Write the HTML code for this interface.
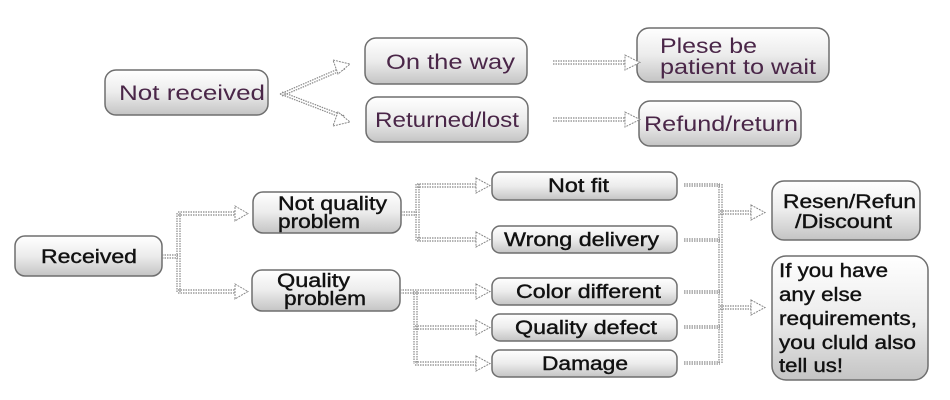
<!DOCTYPE html>
<html><head><meta charset="utf-8"><style>
html,body{margin:0;padding:0;background:#fff;width:950px;height:400px;overflow:hidden}
svg{display:block}
text{font-family:"Liberation Sans",Arial,sans-serif}
</style></head><body>
<svg width="950" height="400" viewBox="0 0 950 400" xmlns="http://www.w3.org/2000/svg">
<defs>
<linearGradient id="g" x1="0" y1="0" x2="0" y2="1">
<stop offset="0" stop-color="#ffffff"/><stop offset="0.5" stop-color="#ececec"/><stop offset="1" stop-color="#c4c4c4"/>
</linearGradient>
</defs>
<g fill="url(#g)" stroke="#6e6e6e" stroke-width="1.5">
<rect x="105" y="70" width="163" height="45" rx="11"/>
<rect x="365" y="38" width="162" height="46" rx="11"/>
<rect x="366" y="97" width="162" height="45" rx="11"/>
<rect x="637" y="28" width="192" height="54" rx="12"/>
<rect x="639" y="101" width="162" height="45" rx="11"/>
<rect x="15" y="236" width="147" height="40" rx="10"/>
<rect x="253" y="192" width="148" height="41" rx="10"/>
<rect x="252" y="270" width="148" height="41" rx="10"/>
<rect x="492" y="172" width="185" height="28" rx="8"/>
<rect x="492" y="226" width="185" height="27" rx="8"/>
<rect x="492" y="278" width="185" height="27" rx="8"/>
<rect x="492" y="314" width="185" height="27" rx="8"/>
<rect x="492" y="350" width="185" height="27" rx="8"/>
<rect x="772" y="181" width="148" height="59" rx="12"/>
<rect x="772" y="256" width="156" height="124" rx="14"/>
</g>
<g fill="#4a2648" font-size="21">
<text x="119" y="100" textLength="146" lengthAdjust="spacingAndGlyphs">Not received</text>
<text x="386" y="69" textLength="129" lengthAdjust="spacingAndGlyphs">On the way</text>
<text x="375" y="127" textLength="144" lengthAdjust="spacingAndGlyphs">Returned/lost</text>
<text x="660" y="53" textLength="97" lengthAdjust="spacingAndGlyphs">Plese be</text>
<text x="660" y="74" textLength="156" lengthAdjust="spacingAndGlyphs">patient to wait</text>
<text x="644" y="131" textLength="154" lengthAdjust="spacingAndGlyphs">Refund/return</text>
</g>
<g fill="#111" stroke="#111" stroke-width="0.4" font-size="19">
<text x="41" y="263" textLength="96" lengthAdjust="spacingAndGlyphs">Received</text>
<text x="278" y="210" textLength="109" lengthAdjust="spacingAndGlyphs">Not quality</text>
<text x="278" y="228" textLength="82" lengthAdjust="spacingAndGlyphs">problem</text>
<text x="277" y="287" textLength="73" lengthAdjust="spacingAndGlyphs">Quality</text>
<text x="284" y="305" textLength="82" lengthAdjust="spacingAndGlyphs">problem</text>
<text x="548" y="192" textLength="61" lengthAdjust="spacingAndGlyphs">Not fit</text>
<text x="504" y="246" textLength="155" lengthAdjust="spacingAndGlyphs">Wrong delivery</text>
<text x="516" y="298" textLength="145" lengthAdjust="spacingAndGlyphs">Color different</text>
<text x="515" y="334" textLength="142" lengthAdjust="spacingAndGlyphs">Quality defect</text>
<text x="542" y="370" textLength="86" lengthAdjust="spacingAndGlyphs">Damage</text>
<text x="783" y="208" textLength="133" lengthAdjust="spacingAndGlyphs">Resen/Refun</text>
<text x="795" y="228" textLength="97" lengthAdjust="spacingAndGlyphs">/Discount</text>
<text x="779" y="277" textLength="109" lengthAdjust="spacingAndGlyphs">If you have</text>
<text x="779" y="301" textLength="83" lengthAdjust="spacingAndGlyphs">any else</text>
<text x="779" y="325" textLength="138" lengthAdjust="spacingAndGlyphs">requirements,</text>
<text x="779" y="349" textLength="137" lengthAdjust="spacingAndGlyphs">you cluld also</text>
<text x="779" y="372" textLength="64" lengthAdjust="spacingAndGlyphs">tell us!</text>
</g>
<g fill="none" stroke="#888" stroke-width="1.2" stroke-dasharray="1.5 1">
<path d="M280 94 L345 66 M280 94 L345 119"/>
<path d="M282 96 L345 69 M282 92 L345 116"/>
<path d="M553 61 H625 M553 64 H625 M553 118 H625 M553 121 H625"/>
<path d="M162 255 H178 M162 258 H178"/>
<path d="M177 213 V292 M180 213 V292"/>
<path d="M178 212 H237 M178 215 H237 M178 290 H237 M178 293 H237"/>
<path d="M401 212 H417 M401 215 H417"/>
<path d="M416 184 V241 M419 184 V241"/>
<path d="M417 184 H478 M417 187 H478 M417 238 H478 M417 241 H478"/>
<path d="M400 290 H415 M400 293 H415"/>
<path d="M414 291 V364 M417 291 V364"/>
<path d="M415 290 H478 M415 293 H478 M415 326 H478 M415 329 H478 M415 362 H478 M415 365 H478"/>
<path d="M684 184 H720 M684 186 H720 M684 239 H720 M684 241 H720 M684 291 H720 M684 293 H720 M684 326 H720 M684 328 H720 M684 362 H720 M684 364 H720"/>
<path d="M719 184 V364 M722 184 V364"/>
<path d="M720 211 H753 M720 214 H753 M720 306 H753 M720 309 H753"/>
</g>
<g fill="#fff" stroke="#888" stroke-width="1" stroke-dasharray="2 1">
<path d="M333 60 L350 64 L338 74 Z"/>
<path d="M333 126 L350 122 L338 112 Z"/>
<path d="M625 55 L640 62.5 L625 70 Z"/>
<path d="M625 112 L640 119.5 L625 127 Z"/>
<path d="M235 206 L248 213.5 L235 221 Z"/>
<path d="M235 284 L248 291.5 L235 299 Z"/>
<path d="M476 178 L490 185.5 L476 193 Z"/>
<path d="M476 232 L490 239.5 L476 247 Z"/>
<path d="M476 284 L490 291.5 L476 299 Z"/>
<path d="M476 320 L490 327.5 L476 335 Z"/>
<path d="M476 356 L490 363.5 L476 371 Z"/>
<path d="M751 205 L765 212.5 L751 220 Z"/>
<path d="M751 300 L765 307.5 L751 315 Z"/>
</g>
</svg>
</body></html>
